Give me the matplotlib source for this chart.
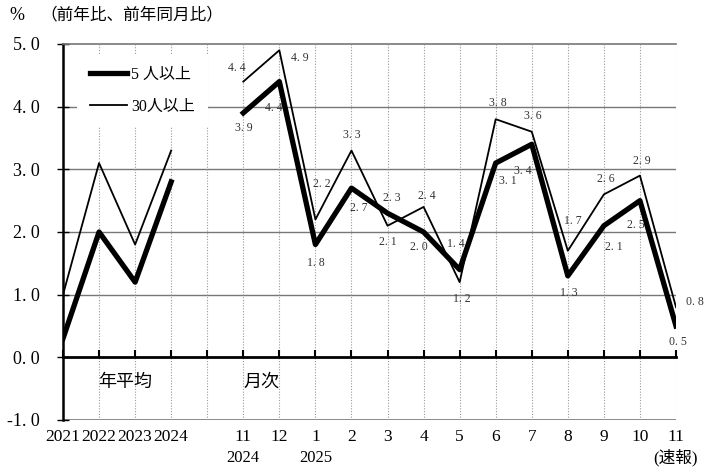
import numpy as np
import matplotlib
matplotlib.use("Agg")
import matplotlib.pyplot as plt
import matplotlib.transforms as mtransforms

plt.rcParams['font.family'] = ['Liberation Serif', 'Noto Sans CJK JP']

# x categories (index 4 is the gap between annual and monthly)
tick_top = ["2021", "2022", "2023", "2024", "", "11", "12", "1", "2", "3",
            "4", "5", "6", "7", "8", "9", "10", "11"]
tick_bottom = ["", "", "", "", "", "2024", "", "2025", "", "", "", "", "",
               "", "", "", "", "(速報)"]

# 5人以上 (thick) and 30人以上 (thin)
v5 = [0.3, 2.0, 1.2, 2.8, np.nan, 3.9, 4.4, 1.8, 2.7, 2.3, 2.0, 1.4, 3.1,
      3.4, 1.3, 2.1, 2.5, 0.5]
v30 = [1.0, 3.1, 1.8, 3.3, np.nan, 4.4, 4.9, 2.2, 3.3, 2.1, 2.4, 1.2, 3.8,
       3.6, 1.7, 2.6, 2.9, 0.8]

# label offsets (pixels) for the monthly points
off5 = [(1, -15), (-6, -26), (0, -18), (7, -20), (4, 15), (-5, -15),
        (-4, 26), (12, -18), (-9, -27), (1, -17), (10, -21), (-4, -24),
        (2, -16)]
off30 = [(-6, 14), (20, -8), (6, 35), (0, 16), (0, -16), (3, 11),
         (2, -17), (2, 16), (1, 16), (5, 30), (2, 15), (2, 15), (19, 5)]

x = np.arange(len(tick_top))

fig = plt.figure(figsize=(7.08, 4.68), dpi=100)
ax = fig.add_axes([63 / 708, 48 / 468, 613 / 708, 376 / 468])

ax.set_xlim(0, 17)
ax.set_ylim(-1, 5)

# grid
for yv in [1, 2, 3, 4]:
    ax.axhline(yv, color="#777777", lw=1.0, zorder=1)
ax.axhline(-1, color="#777777", lw=1.2, zorder=1)
ax.vlines(x[1:], -1, 5, colors="#999999", linestyles=(0, (1, 1.5)), lw=0.8, zorder=1)

# spines
ax.spines['right'].set_visible(False)
ax.spines['top'].set_color("#777777")
ax.spines['top'].set_linewidth(1.2)
ax.spines['left'].set_linewidth(1.8)
ax.spines['bottom'].set_position(('data', 0))
ax.spines['bottom'].set_linewidth(2.0)
ax.spines['bottom'].set_zorder(2)

ax.set_xticks(x)
ax.tick_params(axis='x', direction='in', length=5, width=1.5, labelbottom=False)
ax.set_yticks(np.arange(-1, 6))
ax.set_yticklabels([f"{v:.1f}".replace(".", ". ") for v in np.arange(-1, 6)],
                   fontsize=13)
ax.tick_params(axis='y', direction='inout', length=9, width=1.0, pad=12)

ax.plot(x, v30, color="black", lw=1.3, label="30人以上", zorder=3)
ax.plot(x, v5, color="black", lw=3.8, label="5 人以上", zorder=4)

# data labels (monthly only)
for i, xi in enumerate(x[5:]):
    ax.annotate(f"{v5[5 + i]:.1f}".replace(".", ". "), (xi, v5[5 + i]),
                xytext=off5[i], textcoords="offset pixels", ha="center",
                va="center", fontsize=8.5, color="#333333")
    ax.annotate(f"{v30[5 + i]:.1f}".replace(".", ". "), (xi, v30[5 + i]),
                xytext=off30[i], textcoords="offset pixels", ha="center",
                va="center", fontsize=8.5, color="#333333")

# x tick labels below the -1 line
trans = mtransforms.blended_transform_factory(ax.transData, ax.transAxes)
for xi, t1, t2 in zip(x, tick_top, tick_bottom):
    ax.text(xi, -0.045, t1, transform=trans, ha="center", va="center", fontsize=12.5)
    ax.text(xi, -0.1, t2, transform=trans, ha="center", va="center", fontsize=12)

ax.text(1.72, -0.4, "年平均", ha="center", va="center", fontsize=13)
ax.text(5.5, -0.4, "月次", ha="center", va="center", fontsize=13)

fig.text(17 / 708, 1 - 15 / 468, "%", ha="center", va="center", fontsize=13)
fig.text(132 / 708, 1 - 15 / 468, "（前年比、前年同月比）", ha="center",
         va="center", fontsize=12)

h, l = ax.get_legend_handles_labels()
leg = ax.legend(h[::-1], l[::-1], loc="upper left", bbox_to_anchor=(0.01, 0.995),
                fontsize=11.5, handlelength=2.3, handletextpad=0.3,
                labelspacing=1.0, frameon=True, fancybox=False, borderpad=0.8)
leg.get_frame().set_facecolor("white")
leg.get_frame().set_edgecolor("none")
leg.get_frame().set_alpha(1)

fig.savefig("out.png", dpi=100)
